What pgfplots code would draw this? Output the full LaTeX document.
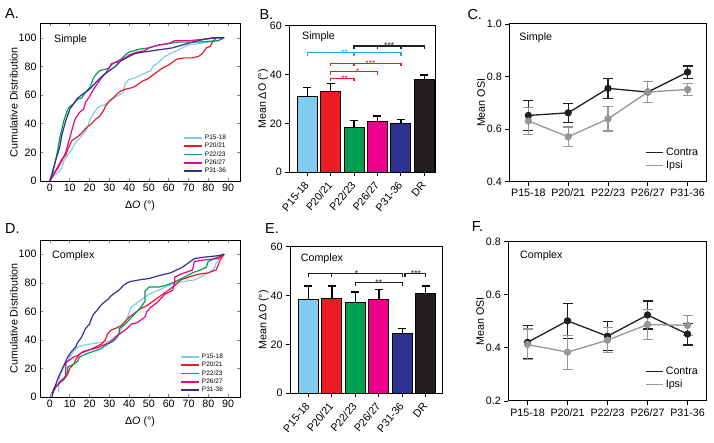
\documentclass[border=0pt]{standalone}
\usepackage{pgfplots}
\pgfplotsset{compat=1.18}
\usepackage{fontspec}
\setmainfont{Liberation Sans}
\definecolor{cLB}{RGB}{128,204,240}
\definecolor{cR}{RGB}{237,28,36}
\definecolor{cG}{RGB}{0,158,80}
\definecolor{cM}{RGB}{236,0,140}
\definecolor{cN}{RGB}{46,49,146}
\definecolor{cK}{RGB}{35,31,32}
\definecolor{cGr}{RGB}{150,150,150}
\definecolor{cBr}{RGB}{41,171,226}
\tikzset{
 brk/.style={line width=1.3pt},
 star/.style={font=\fontsize{8.5}{8.5}\selectfont, anchor=base, inner sep=0pt, yshift=-2.8pt},
}
\pgfplotsset{
 every axis/.append style={font=\fontsize{10.7}{12}\selectfont,
   /pgf/number format/assume math mode=true, scale only axis, anchor=south west},
 cdfax/.style={xmin=-5, xmax=96, ymin=0, ymax=110,
   xtick={0,10,...,90}, ytick={0,20,...,100},
   tick align=inside, tick pos=both, major tick length=3pt,
   xlabel={Δ\textit{O} (°)}, ylabel={Cumulative Distribution},
   ylabel style={yshift=-6pt}, xlabel style={yshift=-2pt},
   axis line style={line width=0.8pt}, tick style={line width=0.6pt},
   legend style={draw=none, fill=none, anchor=north west,
     font=\fontsize{6.5}{7}\selectfont, row sep=-2pt, inner sep=0pt},
   legend cell align=left,
   legend image code/.code={\draw[##1, line width=1.8pt] (0pt,0pt) -- (18pt,0pt);}},
 cdf/.style={line width=1.2pt, mark=none},
 barax/.style={ymin=0, ymax=60, ytick={0,20,40,60},
   xtick={0,...,5}, xticklabels={P15-18,P20/21,P22/23,P26/27,P31-36,DR},
   xticklabel style={rotate=50, anchor=east, inner sep=1pt},
   xticklabel shift=6pt,
   tick align=outside, tick pos=left, major tick length=4pt,
   axis line style={line width=1pt}, tick style={line width=0.8pt, black},
   ylabel={Mean ΔO (°)}, ylabel style={yshift=-5pt}, ybar, bar width=20pt, clip=false,
   error bars/y dir=plus, error bars/y explicit,
   error bars/error bar style={line width=1.4pt, black},
   error bars/error mark options={rotate=90, mark size=4pt, line width=1.4pt, black}},
 bb/.style={draw=black, line width=1pt, bar shift=0pt, fill=#1},
 osiax/.style={xmin=-0.48, xmax=4.48,
   xtick={0,...,4}, xticklabels={P15-18,P20/21,P22/23,P26/27,P31-36},
   yticklabel style={/pgf/number format/fixed, /pgf/number format/precision=1, /pgf/number format/fixed zerofill},
   tick align=outside, tick pos=left, major tick length=4pt,
   axis line style={line width=1pt}, tick style={line width=0.8pt, black},
   ylabel={Mean OSI}, ylabel style={yshift=-5pt}, clip=false,
   legend style={draw=none, fill=none, anchor=south west, at={(0.69,0.06)},
     row sep=0pt, inner sep=0pt},
   legend cell align=left},
 osi/.style={color=#1, line width=1.3pt, mark=*, mark size=3pt, forget plot,
   error bars/.cd, y dir=both, y explicit,
   error bar style={line width=1.2pt, #1},
   error mark options={rotate=90, mark size=5pt, line width=1.2pt, #1}},
}
\begin{document}
\begin{tikzpicture}
\useasboundingbox (0pt,0pt) rectangle (714pt,443pt);
\node[anchor=west, font=\fontsize{14.5}{14.5}\selectfont, inner sep=0pt] at (5pt,429.7pt) {A.};
\node[anchor=west, font=\fontsize{14.5}{14.5}\selectfont, inner sep=0pt] at (259.3pt,428pt) {B.};
\node[anchor=west, font=\fontsize{14.5}{14.5}\selectfont, inner sep=0pt] at (467.3pt,428pt) {C.};
\node[anchor=west, font=\fontsize{14.5}{14.5}\selectfont, inner sep=0pt] at (5pt,214.7pt) {D.};
\node[anchor=west, font=\fontsize{14.5}{14.5}\selectfont, inner sep=0pt] at (265pt,214.7pt) {E.};
\node[anchor=west, font=\fontsize{14.5}{14.5}\selectfont, inner sep=0pt] at (471.7pt,216.3pt) {F.};

% ---------- A ----------
\begin{axis}[cdfax, at={(40pt,262pt)}, width=200pt, height=157.5pt,
  legend style={at={(0.715,0.305)}}]
\addplot[cdf, cLB] coordinates {(0,0) (1,2) (3,5) (5,7) (6,9) (7,14) (9,18) (11,22) (13,27) (15,30) (17,33) (19,37) (20,42) (22,47) (24,51) (27,53) (30,55) (32,58) (35,60) (37,62) (38,68) (40,71) (43,72) (46,74) (49,76) (51,77) (52,80) (55,83) (58,87) (61,89) (64,91) (67,93) (70,95) (75,96) (80,97) (85,98) (88,100)};
\addplot[cdf, cR] coordinates {(0,0) (2,5) (4,10) (6,15) (8,18) (9,22) (11,28) (13,30) (15,32) (17,35) (19,38) (21,40) (23,43) (25,45) (27,49) (28,52) (30,56) (32,58) (34,61) (36,63) (38,64) (41,65) (43,66) (45,68) (47,70) (49,71) (51,73) (53,75) (55,77) (57,79) (60,81) (62,83) (64,85) (68,86) (72,86) (75,87) (77,89) (79,93) (81,94) (82,97) (84,100) (88,100)};
\addplot[cdf, cG] coordinates {(0,0) (1,3) (3,15) (4,22) (5,30) (6,36) (7,42) (8,46) (9,50) (10,52) (12,54) (14,57) (16,58) (18,62) (20,65) (21,68) (22,72) (23,74) (25,77) (28,78) (30,79) (31,81) (33,83) (36,85) (38,88) (40,90) (45,92) (50,93) (55,95) (60,96) (65,97) (75,97) (85,98) (88,100)};
\addplot[cdf, cM] coordinates {(0,0) (2,5) (4,9) (6,14) (8,20) (9,25) (10,30) (11,35) (12,40) (13,44) (15,48) (17,50) (18,55) (20,59) (22,64) (24,68) (26,72) (28,75) (30,79) (31,82) (34,83) (36,85) (38,86) (40,88) (44,90) (48,91) (50,93) (55,95) (60,96) (63,98) (70,98) (78,99) (82,100) (88,100)};
\addplot[cdf, cN] coordinates {(0,0) (1,5) (3,15) (4,19) (5,24) (6,32) (7,37) (8,42) (9,46) (10,50) (12,54) (14,58) (17,61) (20,64) (22,67) (24,70) (27,74) (30,77) (33,80) (36,84) (40,87) (43,89) (47,90) (52,91) (57,92) (62,93) (67,95) (72,97) (78,99) (84,100) (88,100)};
\legend{P15-18,P20/21,P22/23,P26/27,P31-36}
\node[anchor=west, inner sep=0pt] at (rel axis cs:0.07,0.895) {Simple};
\end{axis}

% ---------- D ----------
\begin{axis}[cdfax, at={(40pt,46pt)}, width=200pt, height=157pt,
  legend style={at={(0.70,0.287)}}]
\addplot[cdf, cLB] coordinates {(4.5,3) (4.5,10) (5,15) (7,21) (9,25) (10,28) (12,32) (14,35) (16,36) (20,37) (25,38) (30,39) (33,41) (35,45) (37,50) (39,55) (41,63) (43,65) (46,68) (50,72) (55,75) (60,78) (63,80) (68,81) (73,82) (76,84) (80,87) (83,90) (84,94) (86,98) (88,100)};
\addplot[cdf, cR] coordinates {(1,2) (2,6) (4,9) (6,12) (8,14) (9,16) (10,20) (12,23) (13,26) (15,30) (17,32) (20,33) (23,35) (26,37) (28,40) (29,44) (31,47) (33,48) (36,50) (38,53) (40,56) (43,59) (46,62) (49,64) (52,67) (55,70) (57,72) (59,74) (61,76) (63,78) (66,82) (70,84) (75,86) (80,87) (84,89) (86,96) (88,100)};
\addplot[cdf, cG] coordinates {(1,3) (3,7) (5,10) (7,12) (8,14) (9,18) (9,21) (12,23) (14,25) (15,28) (18,30) (22,32) (26,34) (29,37) (32,39) (34,42) (35,45) (35,48) (38,51) (40,54) (42,57) (44,60) (46,63) (48,67) (48,74) (50,77) (55,77) (58,78) (62,80) (65,82) (68,84) (72,87) (76,89) (79,91) (80,95) (83,97) (88,100)};
\addplot[cdf, cM] coordinates {(1,2) (3,7) (5,10) (7,13) (8,15) (8,24) (10,26) (12,28) (14,29) (16,31) (20,33) (25,35) (28,37) (30,38) (33,42) (36,45) (39,48) (41,51) (44,52) (46,54) (48,56) (49,60) (51,63) (54,66) (56,69) (58,72) (61,74) (62,75) (63,80) (63,84) (66,86) (70,88) (72,89) (73,95) (78,96) (85,97) (88,100)};
\addplot[cdf, cN] coordinates {(1,0) (2,5) (3,9) (4,13) (5,16) (6,19) (7,22) (8,25) (9,28) (11,32) (13,35) (14,38) (16,42) (17,45) (18,48) (20,51) (21,55) (22,58) (24,61) (25,63) (27,66) (29,68) (31,71) (33,73) (35,75) (37,78) (39,80) (41,81) (45,82) (50,83) (55,85) (58,86) (61,87) (64,89) (67,91) (69,93) (71,95) (73,97) (78,98) (85,99) (88,100)};
\legend{P15-18,P20/21,P22/23,P26/27,P31-36}
\node[anchor=west, inner sep=0pt] at (rel axis cs:0.06,0.898) {Complex};
\end{axis}

% ---------- B ----------
\begin{axis}[barax, at={(289.3pt,270.7pt)}, width=145.7pt, height=146.6pt,
  xmin=-0.77, xmax=5.46]
\addplot[bb=cLB] coordinates {(0,30.9) +- (0,3.9)};
\addplot[bb=cR] coordinates {(1,33.0) +- (0,3.4)};
\addplot[bb=cG] coordinates {(2,18.4) +- (0,2.7)};
\addplot[bb=cM] coordinates {(3,20.6) +- (0,2.4)};
\addplot[bb=cN] coordinates {(4,19.8) +- (0,1.9)};
\addplot[bb=cK] coordinates {(5,37.8) +- (0,2.1)};
\node[anchor=west, inner sep=0pt] at (rel axis cs:0.087,0.925) {Simple};
\draw[brk, cK] (axis cs:2,50.4) -- (axis cs:2,51.7) -- (axis cs:5,51.7) -- (axis cs:5,50.4);
\draw[brk, cK] (axis cs:3,51.7) -- (axis cs:3,50.4);
\draw[brk, cK] (axis cs:4,51.7) -- (axis cs:4,50.4);
\node[star, cK] at (axis cs:3.5,51.7) {***};
\draw[brk, cBr] (axis cs:0,47.7) -- (axis cs:0,49.0) -- (axis cs:4,49.0) -- (axis cs:4,47.7);
\draw[brk, cBr] (axis cs:2,49.0) -- (axis cs:2,47.7);
\node[star, cBr] at (axis cs:1.6,49.0) {**};
\draw[brk, cR] (axis cs:1,43.3) -- (axis cs:1,44.6) -- (axis cs:4,44.6) -- (axis cs:4,43.3);
\draw[brk, cR] (axis cs:2,44.6) -- (axis cs:2,43.3);
\node[star, cR] at (axis cs:2.7,44.6) {***};
\draw[brk, cR] (axis cs:1,39.9) -- (axis cs:1,41.2) -- (axis cs:3,41.2) -- (axis cs:3,39.9);
\node[star, cR] at (axis cs:2.15,41.2) {*};
\draw[brk, cR] (axis cs:1,37.2) -- (axis cs:1,38.5) -- (axis cs:2,38.5) -- (axis cs:2,37.2);
\node[star, cR] at (axis cs:1.6,38.5) {**};
\end{axis}

% ---------- E ----------
\begin{axis}[barax, at={(290pt,49.7pt)}, width=152pt, height=146.6pt,
  xmin=-0.78, xmax=5.69]
\addplot[bb=cLB] coordinates {(0,38.2) +- (0,5.7)};
\addplot[bb=cR] coordinates {(1,38.7) +- (0,5.2)};
\addplot[bb=cG] coordinates {(2,37.2) +- (0,4.3)};
\addplot[bb=cM] coordinates {(3,38.2) +- (0,4.4)};
\addplot[bb=cN] coordinates {(4,24.3) +- (0,2.2)};
\addplot[bb=cK] coordinates {(5,40.9) +- (0,3.0)};
\node[anchor=west, inner sep=0pt] at (rel axis cs:0.07,0.921) {Complex};
\draw[brk, cK] (axis cs:0,47.8) -- (axis cs:0,49.1) -- (axis cs:4,49.1) -- (axis cs:4,47.8);
\draw[brk, cK] (axis cs:1,49.1) -- (axis cs:1,47.8);
\node[star, cK] at (axis cs:2.05,49.1) {*};
\draw[brk, cK] (axis cs:2,44.0) -- (axis cs:2,45.3) -- (axis cs:4,45.3) -- (axis cs:4,44.0);
\node[star, cK] at (axis cs:3.0,45.3) {**};
\draw[brk, cK] (axis cs:4.12,47.8) -- (axis cs:4.12,49.1) -- (axis cs:5,49.1) -- (axis cs:5,47.8);
\node[star, cK] at (axis cs:4.58,49.1) {***};
\end{axis}

% ---------- C ----------
\begin{axis}[osiax, at={(509.3pt,261.3pt)}, width=197.4pt, height=157.7pt,
  ymin=0.4, ymax=1.0, ytick={0.4,0.6,0.8,1.0}]
\addplot[osi=cK] coordinates {(0,0.652) +- (0,0.056) (1,0.662) +- (0,0.037) (2,0.755) +- (0,0.038) (3,0.741) +- (0,0.040) (4,0.817) +- (0,0.023)};
\addplot[osi=cGr] coordinates {(0,0.631) +- (0,0.052) (1,0.571) +- (0,0.037) (2,0.639) +- (0,0.046) (3,0.741) +- (0,0.040) (4,0.751) +- (0,0.024)};
\addlegendimage{line legend, cK, line width=1.3pt}
\addlegendimage{line legend, cGr, line width=1.3pt}
\legend{Contra,Ipsi}
\node[anchor=west, inner sep=0pt] at (rel axis cs:0.05,0.916) {Simple};
\end{axis}

% ---------- F ----------
\begin{axis}[osiax, at={(508.3pt,42pt)}, width=198.4pt, height=159.3pt,
  ymin=0.2, ymax=0.8, ytick={0.2,0.4,0.6,0.8}]
\addplot[osi=cK] coordinates {(0,0.421) +- (0,0.062) (1,0.502) +- (0,0.066) (2,0.444) +- (0,0.055) (3,0.524) +- (0,0.053) (4,0.452) +- (0,0.041)};
\addplot[osi=cGr] coordinates {(0,0.413) +- (0,0.058) (1,0.384) +- (0,0.064) (2,0.429) +- (0,0.047) (3,0.488) +- (0,0.056) (4,0.485) +- (0,0.037)};
\addlegendimage{line legend, cK, line width=1.3pt}
\addlegendimage{line legend, cGr, line width=1.3pt}
\legend{Contra,Ipsi}
\node[anchor=west, inner sep=0pt] at (rel axis cs:0.059,0.912) {Complex};
\end{axis}
\end{tikzpicture}
\end{document}
